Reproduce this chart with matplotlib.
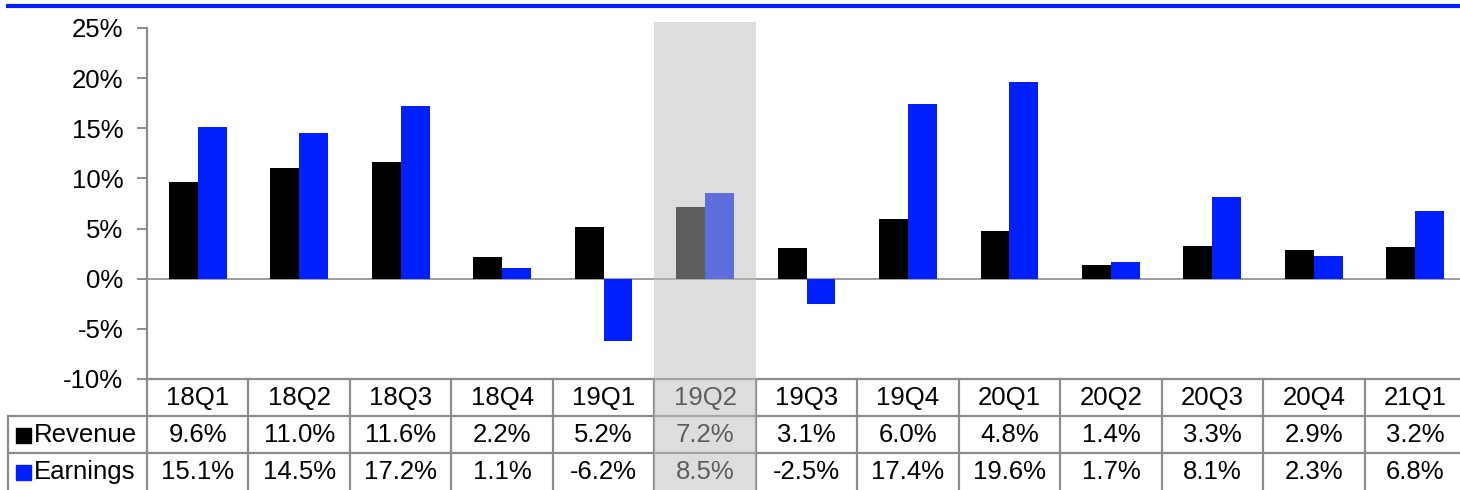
import matplotlib.pyplot as plt
from matplotlib.patches import Rectangle
from matplotlib.lines import Line2D
from matplotlib.transforms import blended_transform_factory

plt.rcParams['font.family'] = ['Liberation Sans', 'DejaVu Sans']

quarters = ['18Q1', '18Q2', '18Q3', '18Q4', '19Q1', '19Q2', '19Q3',
            '19Q4', '20Q1', '20Q2', '20Q3', '20Q4', '21Q1']
revenue = [9.6, 11.0, 11.6, 2.2, 5.2, 7.2, 3.1, 6.0, 4.8, 1.4, 3.3, 2.9, 3.2]
earnings = [15.1, 14.5, 17.2, 1.1, -6.2, 8.5, -2.5, 17.4, 19.6, 1.7, 8.1, 2.3, 6.8]
yticks = [-10, -5, 0, 5, 10, 15, 20, 25]
highlight = 5  # 19Q2 column

W, H = 1460, 490
blue = '#0020ff'
grid = '#8c8c8c'
fs = 18.5

fig = plt.figure(figsize=(W / 100, H / 100), dpi=100)

# plot area in pixels: x 147..1466, y 28..379
left, right = 147, 1466
top, bottom = 28, 379
ax = fig.add_axes([left / W, 1 - bottom / H, (right - left) / W, (bottom - top) / H])

x = list(range(len(quarters)))
bw = 0.285
ax.bar([i - bw / 2 for i in x], revenue, bw, color='black', zorder=2)
ax.bar([i + bw / 2 for i in x], earnings, bw, color=blue, zorder=2)
ax.axhline(0, color=grid, lw=1.2, zorder=1)

ax.set_xlim(-0.5, len(quarters) - 0.5)
ax.set_ylim(-10, 25)
ax.set_yticks(yticks)
ax.set_yticklabels([f'{v}%' for v in yticks], fontsize=fs)
ax.set_xticks([])
for s in ['top', 'right', 'bottom']:
    ax.spines[s].set_visible(False)
ax.spines['left'].set_color(grid)
ax.spines['left'].set_linewidth(1.6)
ax.tick_params(axis='y', direction='out', length=7, width=1.4, color=grid, pad=10)
ax.patch.set_alpha(0)

# table below the plot, x in data units, y in figure fraction
tr = blended_transform_factory(ax.transData, fig.transFigure)
def fy(py):
    return 1 - py / H

rows_y = [379, 416, 453, 490]
lw = 1.6
# horizontal lines
fig.add_artist(Line2D([left / W, 1], [fy(379)] * 2, color=grid, lw=lw))
for py in rows_y[1:3]:
    fig.add_artist(Line2D([8 / W, 1], [fy(py)] * 2, color=grid, lw=lw))
# vertical lines
for i in range(len(quarters) + 1):
    fig.add_artist(Line2D([i - 0.5] * 2, [fy(379), fy(490)], color=grid, lw=lw,
                          transform=tr))
fig.add_artist(Line2D([8 / W] * 2, [fy(416), fy(490)], color=grid, lw=lw))

for i, q in enumerate(quarters):
    fig.text(i, fy(398), q, transform=tr, ha='center', va='center', fontsize=fs)
    fig.text(i, fy(435), f'{revenue[i]:.1f}%', transform=tr, ha='center',
             va='center', fontsize=fs)
    fig.text(i, fy(472), f'{earnings[i]:.1f}%', transform=tr, ha='center',
             va='center', fontsize=fs)

# row labels with legend squares
fig.add_artist(Rectangle((16 / W, fy(443)), 15 / W, 15 / H, color='black',
                         transform=fig.transFigure))
fig.add_artist(Rectangle((16 / W, fy(480)), 15 / W, 15 / H, color=blue,
                         transform=fig.transFigure))
fig.text(34 / W, fy(435), 'Revenue', ha='left', va='center', fontsize=fs)
fig.text(34 / W, fy(472), 'Earnings', ha='left', va='center', fontsize=fs)

# highlighted column overlay
fig.add_artist(Rectangle((highlight - 0.5, fy(490)), 1, (490 - 22) / H,
                         transform=tr, facecolor='#bdbdbd', alpha=0.5,
                         edgecolor='none', zorder=10))

# blue rule at top
fig.add_artist(Line2D([8 / W, 1], [fy(6)] * 2, color=blue, lw=3))

fig.savefig('out.png', dpi=100)
